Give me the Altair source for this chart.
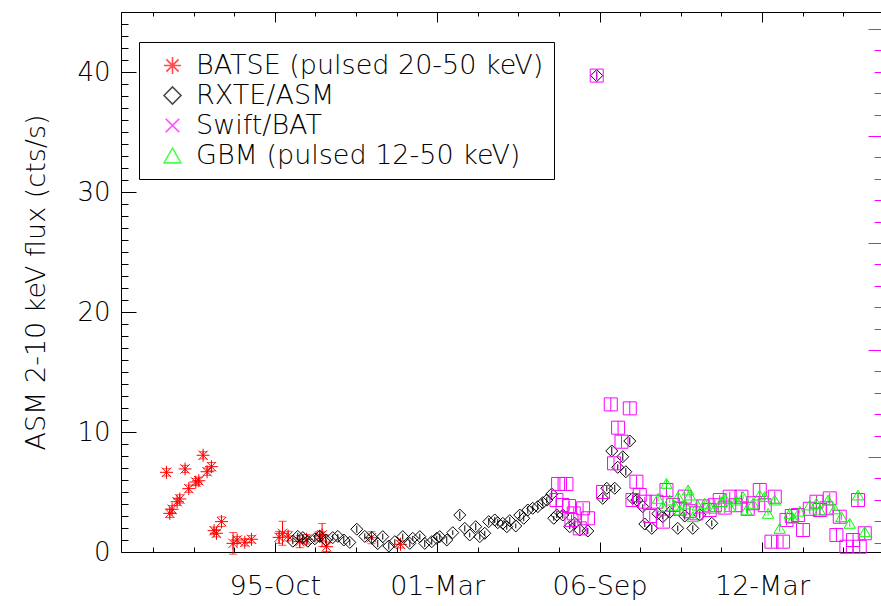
import altair as alt
import pandas as pd

# ---------------- light curve values (MJD, flux in ASM cts/s, 1-sigma error) ----------------
BATSE_MJD = [48666, 48707, 48735, 48797, 48830, 48895, 48941, 49027, 49064, 49117,
             49166, 49220, 49252, 49282, 49344, 49486, 49536, 49631, 49713, 50053,
             50095, 50164, 50308, 50390, 50554, 50583, 50637, 51191, 51548]
BATSE_FLUX = [6.64, 3.22, 3.56, 4.19, 4.42, 6.92, 5.28, 5.83, 5.94, 8.06,
              6.69, 7.11, 1.78, 1.56, 2.53, 0.72, 1.00, 0.81, 1.06, 1.22,
              1.56, 1.33, 0.86, 1.06, 1.33, 1.42, 0.44, 1.19, 0.64]
BATSE_ERR = [0.30, 0.35, 0.30, 0.30, 0.35, 0.30, 0.30, 0.30, 0.30, 0.30,
             0.30, 0.35, 0.30, 0.30, 0.40, 0.90, 0.30, 0.30, 0.30, 0.50,
             1.00, 0.40, 0.50, 0.40, 0.40, 0.95, 0.40, 0.50, 0.30]

ASM_MJD = [50222, 50283, 50345, 50406, 50493, 50554, 50628, 50714, 50776, 50850,
           50924, 51010, 51108, 51195, 51268, 51330, 51404, 51478, 51576, 51663,
           51699, 51786, 51847, 51933, 51995, 52032, 52118, 52192, 52278, 52340,
           52401, 52475, 52525, 52586, 52635, 52709, 52746, 52808, 52857, 52894,
           52968, 53017, 53066, 53116, 53177, 53239, 53300, 53350, 53411, 53436,
           53473, 53547, 53633, 53695, 53756, 53855, 53965, 54039, 54089, 54150,
           54187, 54224, 54286, 54323, 54372, 54409, 54458, 54532, 54557, 54643,
           54717, 54778, 54864, 54963, 55049, 55148, 55234, 55382]
ASM_FLUX = [0.90, 1.30, 1.20, 0.90, 1.10, 1.30, 1.00, 1.20, 1.30, 1.00,
            0.80, 1.90, 1.30, 1.20, 0.70, 1.28, 0.50, 0.86, 1.28, 0.72,
            1.14, 1.28, 0.72, 0.86, 1.14, 1.28, 1.00, 1.61, 3.08, 1.97,
            1.42, 2.11, 1.28, 1.56, 2.53, 2.67, 2.44, 2.39, 2.11, 2.61,
            2.17, 3.08, 2.81, 3.50, 3.64, 3.78, 4.11, 4.33, 4.83, 2.81,
            3.08, 3.08, 2.11, 2.39, 1.83, 1.75, 39.70, 4.47, 5.31, 8.42,
            5.31, 7.06, 7.94, 6.69, 9.25, 4.47, 4.33, 3.78, 2.33, 1.97,
            3.20, 2.94, 3.30, 1.97, 3.00, 1.97, 3.10, 2.39]
ASM_ERR = [0.25, 0.30, 0.25, 0.20, 0.30, 0.25, 0.30, 0.25, 0.20, 0.30,
           0.25, 0.30, 0.25, 0.20, 0.30, 0.25, 0.30, 0.20, 0.25, 0.30,
           0.20, 0.25, 0.30, 0.25, 0.20, 0.25, 0.30, 0.20, 0.30, 0.25,
           0.20, 0.30, 0.25, 0.20, 0.30, 0.25, 0.30, 0.20, 0.25, 0.30,
           0.20, 0.30, 0.25, 0.30, 0.20, 0.25, 0.30, 0.25, 0.30, 0.20,
           0.25, 0.30, 0.20, 0.25, 0.30, 0.25, 0.35, 0.30, 0.25, 0.35,
           0.30, 0.25, 0.35, 0.30, 0.30, 0.25, 0.30, 0.20, 0.25, 0.30,
           0.25, 0.20, 0.30, 0.25, 0.30, 0.25, 0.30, 0.25]

BAT_MJD = [53469, 53489, 53543, 53592, 53624, 53654, 53682, 53756, 53797, 53858,
           53965, 54043, 54138, 54178, 54228, 54270, 54372, 54405, 54454, 54495,
           54557, 54618, 54701, 54782, 54824, 54905, 54988, 55049, 55111, 55193,
           55271, 55357, 55419, 55480, 55542, 55603, 55677, 55747, 55825, 55890,
           55973, 56034, 56117, 56158, 56260, 56302, 56367, 56444, 56506, 56589,
           56671, 56712, 56794, 56835, 56917, 56958, 57040, 57122, 57183, 57204,
           57266]
BAT_FLUX = [4.33, 5.67, 3.92, 5.67, 3.83, 2.67, 3.22, 1.97, 3.64, 2.81,
            39.70, 5.00, 12.30, 7.39, 10.36, 9.19, 11.97, 4.33, 5.86, 4.75,
            4.19, 3.00, 4.19, 2.53, 5.17, 3.92, 3.60, 4.61, 3.40, 3.22,
            3.80, 3.50, 3.90, 4.33, 3.70, 4.61, 3.90, 4.61, 3.60, 4.06,
            5.17, 3.90, 0.86, 4.61, 0.86, 2.67, 3.00, 3.08, 1.83, 3.60,
            4.19, 3.50, 3.64, 4.47, 1.42, 2.94, 0.44, 1.00, 4.33, 0.44,
            1.56]
BAT_ERR = [0.50, 0.55, 0.45, 0.50, 0.40, 0.45, 0.50, 0.40, 0.45, 0.50,
           0.30, 0.50, 0.55, 0.50, 0.55, 0.50, 0.55, 0.45, 0.50, 0.45,
           0.40, 0.45, 0.40, 0.45, 0.50, 0.40, 0.45, 0.40, 0.45, 0.40,
           0.45, 0.40, 0.45, 0.40, 0.45, 0.40, 0.45, 0.40, 0.45, 0.40,
           0.50, 0.45, 0.50, 0.45, 0.50, 0.45, 0.50, 0.45, 0.50, 0.45,
           0.50, 0.45, 0.50, 0.45, 0.50, 0.55, 0.50, 0.55, 0.50, 0.55,
           0.50]

GBM_MJD = [54720, 54778, 54824, 54864, 54926, 54967, 54988, 55049, 55090, 55111,
           55151, 55209, 55295, 55357, 55419, 55501, 55542, 55603, 55686, 55767,
           55809, 55890, 55973, 56034, 56075, 56158, 56219, 56342, 56383, 56465,
           56589, 56671, 56712, 56814, 56896, 56979, 57081, 57183, 57266]
GBM_FLUX = [4.47, 3.80, 5.72, 4.33, 3.90, 4.61, 3.50, 4.00, 5.17, 4.75,
            2.94, 3.90, 4.06, 3.78, 3.64, 4.19, 4.47, 3.78, 4.33, 4.61,
            3.50, 4.06, 4.75, 4.61, 3.22, 4.33, 1.97, 3.22, 2.81, 3.40,
            3.92, 4.06, 3.50, 4.33, 3.60, 2.94, 2.39, 4.75, 1.69]
GBM_ERR = [0.25, 0.20, 0.30, 0.25, 0.20, 0.25, 0.20, 0.25, 0.30, 0.25,
           0.20, 0.25, 0.20, 0.25, 0.20, 0.25, 0.30, 0.20, 0.25, 0.20,
           0.25, 0.20, 0.30, 0.25, 0.20, 0.25, 0.30, 0.20, 0.25, 0.20,
           0.25, 0.20, 0.25, 0.30, 0.20, 0.25, 0.30, 0.25, 0.30]

SERIES = ["BATSE (pulsed 20-50 keV)", "RXTE/ASM", "Swift/BAT", "GBM (pulsed 12-50 keV)"]
COLORS = ["#ff0000", "#000000", "#ff00ff", "#00ff00"]

# axis layout values
DATE_TICKS = [50000, 52000, 54000, 56000]          # MJD of labelled ticks
DATE_LABELS = ["95-Oct", "01-Mar", "06-Sep", "12-Mar"]
DATE_MINOR = list(range(48500, 57001, 500))
FLUX_LABEL_TICKS = [0, 10, 20, 30, 40]
FLUX_MINOR = list(range(0, 46))
BAT_AXIS_TICKS = list(range(-8, 41, 2))              # right-hand BAT scale (mcts/cm2/s)
X_DOMAIN = [48106, 57466]
Y_DOMAIN = [0, 45]
BAT_AXIS_DOMAIN = [-8.88, 41.59]

W, H = 760, 540
FONT = "DejaVu Sans ExtraLight, DejaVu Sans"
WEIGHT = 200

ASTERISK = "M-1,0L1,0M0,-1L0,1M-0.72,-0.72L0.72,0.72M-0.72,0.72L0.72,-0.72"
XMARK = "M-0.8,-0.8L0.8,0.8M0.8,-0.8L-0.8,0.8"
LEGEND_SHAPES = [ASTERISK, "diamond", XMARK, "triangle-up"]

x_scale = alt.Scale(domain=X_DOMAIN, nice=False, zero=False)
y_scale = alt.Scale(domain=Y_DOMAIN, nice=False, zero=False)

legend = alt.Legend(
    title=None, orient="none", legendX=18, legendY=30, direction="vertical",
    strokeColor="black", fillColor="white", padding=10, symbolOffset=10,
    labelOffset=10, rowPadding=2, symbolSize=289, symbolStrokeWidth=1.6,
    labelFont=FONT, labelFontWeight=WEIGHT, labelFontSize=27, labelColor="black",
    labelLimit=0,
)


def series_frame(name, mjd, flux, err):
    return pd.DataFrame({"series": name, "mjd": mjd, "flux": flux, "err": err})


batse = series_frame(SERIES[0], BATSE_MJD, BATSE_FLUX, BATSE_ERR)
asm = series_frame(SERIES[1], ASM_MJD, ASM_FLUX, ASM_ERR)
bat = series_frame(SERIES[2], BAT_MJD, BAT_FLUX, BAT_ERR)
gbm = series_frame(SERIES[3], GBM_MJD, GBM_FLUX, GBM_ERR)

X = alt.X("mjd:Q", scale=x_scale, axis=None)


def error_bars(df, color):
    return alt.Chart(df).transform_calculate(
        lo="datum.flux - datum.err", hi="datum.flux + datum.err"
    ).mark_rule(color=color, strokeWidth=1).encode(
        x=X,
        y=alt.Y("lo:Q", scale=y_scale, axis=None),
        y2="hi:Q",
    )


def error_caps(df, color, end):
    return alt.Chart(df).transform_calculate(
        lo="datum.flux - datum.err", hi="datum.flux + datum.err"
    ).mark_tick(color=color, orient="horizontal", size=8, thickness=1).encode(
        x=X,
        y=alt.Y(f"{end}:Q", scale=y_scale, axis=None),
    )


def symbols(df, color, shape, size):
    return alt.Chart(df).mark_point(
        filled=False, shape=shape, size=size, strokeWidth=1, opacity=1, color=color
    ).encode(x=X, y=alt.Y("flux:Q", scale=y_scale, axis=None))


# key: one entry per instrument, drawn from the colour/shape scales only
key_layer = alt.Chart(pd.DataFrame({"series": SERIES})).transform_filter(
    "false"
).mark_point(filled=False, strokeWidth=1).encode(
    x=X,
    y=alt.Y("flux:Q", scale=y_scale, axis=None),
    color=alt.Color("series:N", scale=alt.Scale(domain=SERIES, range=COLORS), legend=legend),
    shape=alt.Shape("series:N", scale=alt.Scale(domain=SERIES, range=LEGEND_SHAPES), legend=legend),
)

label_expr = " : ".join(
    f"datum.value == {v} ? '{t}'" for v, t in zip(DATE_TICKS, DATE_LABELS)
) + " : ''"

frame = pd.DataFrame({"mjd": X_DOMAIN, "flux": Y_DOMAIN})

# labelled bottom and left axes
axes_labels = alt.Chart(frame).mark_point(opacity=0).encode(
    x=alt.X("mjd:Q", scale=x_scale, axis=alt.Axis(
        orient="bottom", values=DATE_TICKS, labelExpr=label_expr, ticks=False,
        domain=True, domainColor="black", domainWidth=1, title=None, grid=False,
        labelFontSize=27, labelPadding=21, labelBaseline="top", labelFlush=False,
        labelOverlap=False)),
    y=alt.Y("flux:Q", scale=y_scale, axis=alt.Axis(
        orient="left", values=FLUX_LABEL_TICKS, ticks=False, domain=True,
        domainColor="black", domainWidth=1, grid=False, labelFontSize=26,
        labelPadding=11, labelFlush=False, labelOverlap=False,
        title="ASM 2-10 keV flux (cts/s)", titleFontSize=27, titleX=-85,
        titleBaseline="middle")),
)

# inward-pointing ticks on the bottom and left edges
axes_ticks = alt.Chart(frame).mark_point(opacity=0).encode(
    x=alt.X("mjd:Q", scale=x_scale, axis=alt.Axis(
        orient="top", offset=-H, values=DATE_MINOR, labels=False, domain=False,
        grid=False, title=None, tickColor="black", tickWidth=1,
        tickSize={"condition": {"test": "datum.value % 2000 === 0", "value": 10}, "value": 5})),
    y=alt.Y("flux:Q", scale=y_scale, axis=alt.Axis(
        orient="right", offset=-W, values=FLUX_MINOR, labels=False, domain=False,
        grid=False, title=None, tickColor="black", tickWidth=1,
        tickSize={"condition": {"test": "datum.value % 10 === 0", "value": 15}, "value": 7})),
)

# top frame line with downward ticks
axes_top = alt.Chart(frame).mark_point(opacity=0).encode(
    x=alt.X("mjd:Q", scale=x_scale, axis=alt.Axis(
        orient="bottom", offset=-H, values=DATE_MINOR, labels=False, domain=True,
        domainColor="black", domainWidth=1, grid=False, title=None,
        tickColor="black", tickWidth=1,
        tickSize={"condition": {"test": "datum.value % 2000 === 0", "value": 10}, "value": 4})),
    y=alt.Y("flux:Q", scale=y_scale, axis=None),
)

main = alt.layer(
    axes_labels, axes_ticks, axes_top,
    error_bars(batse, COLORS[0]), error_caps(batse, COLORS[0], "lo"),
    error_caps(batse, COLORS[0], "hi"), symbols(batse, COLORS[0], ASTERISK, 169),
    error_bars(asm, COLORS[1]), symbols(asm, COLORS[1], "diamond", 144),
    error_bars(bat, COLORS[2]), symbols(bat, COLORS[2], "square", 169),
    error_bars(gbm, COLORS[3]), symbols(gbm, COLORS[3], "triangle-up", 130),
    key_layer,
).resolve_axis(x="independent", y="independent")

# right-hand Swift/BAT scale: magenta ticks only, pointing inward
bat_frame = pd.DataFrame({"mjd": X_DOMAIN, "rate": BAT_AXIS_DOMAIN})
bat_axis = alt.Chart(bat_frame).mark_point(opacity=0).encode(
    x=alt.X("mjd:Q", scale=x_scale, axis=None),
    y=alt.Y("rate:Q", scale=alt.Scale(domain=BAT_AXIS_DOMAIN, nice=False, zero=False),
            axis=alt.Axis(orient="left", offset=-W, values=BAT_AXIS_TICKS, labels=False,
                          domain=False, grid=False, title=None, tickColor="#ff00ff",
                          tickWidth=1,
                          tickSize={"condition": {"test": "datum.value % 10 === 0", "value": 13},
                                    "value": 7})),
)

chart = alt.layer(main, bat_axis).resolve_scale(y="independent").resolve_axis(
    y="independent"
).properties(
    width=W, height=H,
    padding={"left": 121, "top": 12, "right": 0, "bottom": 54},
    autosize=alt.AutoSizeParams(type="none"),
    background="white",
).configure_view(stroke=None).configure_axis(
    labelFont=FONT, titleFont=FONT, labelFontWeight=WEIGHT, titleFontWeight=WEIGHT,
    labelColor="black", titleColor="black",
)

chart.save("out.html", embed_options={"renderer": "svg", "actions": False})
